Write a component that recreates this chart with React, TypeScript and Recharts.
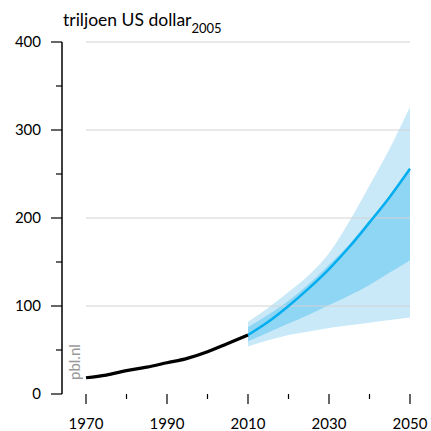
import { ComposedChart, Line, Area, XAxis, YAxis, ReferenceLine } from 'recharts'

const YEARS = [1970, 1975, 1980, 1985, 1990, 1995, 2000, 2005, 2010, 2015, 2020, 2025, 2030, 2035, 2040, 2045, 2050]

// historic GDP, 1970-2010
const HISTORY = [18.5, 21.5, 26.5, 30.5, 35.5, 40.5, 48, 57.5, 67]

// projections, 2010-2050
const MID = [67, 82, 100, 120, 142, 167, 195, 224, 256]
const DARK_LOW = [60, 70, 80, 90, 101, 112, 124, 138, 152]
const DARK_HIGH = [76, 90, 106, 125, 147, 170, 197, 225, 257]
const LIGHT_LOW = [54, 61, 67, 71, 75, 78, 81, 84, 87]
const LIGHT_HIGH = [82, 98, 116, 135, 160, 196, 237, 279, 326]

const Y_TICKS = [0, 50, 100, 150, 200, 250, 300, 350, 400]
const X_TICKS = [1970, 1980, 1990, 2000, 2010, 2020, 2030, 2040, 2050]
const GRID = [100, 200, 300, 400]

const FONT = 'Lato, "Open Sans", sans-serif'

const data = YEARS.map((year, i) => {
  const p = i - 8
  return {
    year,
    history: i < HISTORY.length ? HISTORY[i] : undefined,
    mid: p >= 0 ? MID[p] : undefined,
    dark: p >= 0 ? [DARK_LOW[p], DARK_HIGH[p]] : undefined,
    light: p >= 0 ? [LIGHT_LOW[p], LIGHT_HIGH[p]] : undefined,
  }
})

function YTick({ x, y, payload }: any) {
  const major = payload.value % 100 === 0
  return (
    <g>
      <line x1={x - (major ? 11 : 6)} x2={x} y1={y} y2={y} stroke="#000" strokeWidth={1.2} />
      {major && (
        <text x={x - 21} y={y + 5} textAnchor="end" fontSize={15} fill="#000" fontFamily={FONT}>
          {payload.value}
        </text>
      )}
    </g>
  )
}

function XTick({ x, y, payload }: any) {
  const major = (payload.value - 1970) % 20 === 0
  return (
    <g>
      <line x1={x} x2={x} y1={y} y2={y + (major ? 10 : 5)} stroke="#000" strokeWidth={1.2} />
      {major && (
        <text x={x} y={y + 35} textAnchor="middle" fontSize={15} fill="#000" fontFamily={FONT}>
          {payload.value}
        </text>
      )}
    </g>
  )
}

export default function App() {
  return (
    <div style={{ position: 'absolute', left: 0, top: 0, width: 431, height: 431, background: '#fff' }}>
      <div
        style={{
          position: 'absolute',
          left: 63,
          top: 9,
          fontFamily: FONT,
          fontSize: 17.5,
          color: '#000',
          whiteSpace: 'nowrap',
        }}
      >
        triljoen US dollar
        <sub style={{ fontSize: 13, verticalAlign: 'baseline', position: 'relative', top: 7 }}>2005</sub>
      </div>
      <ComposedChart width={431} height={431} data={data} margin={{ top: 42, right: 21, bottom: 0, left: 0 }}>
        {GRID.map((g) => (
          <ReferenceLine
            key={g}
            segment={[
              { x: 1970, y: g },
              { x: 2050, y: g },
            ]}
            stroke="#d2d2d2"
            strokeWidth={1}
          />
        ))}
        <XAxis
          dataKey="year"
          type="number"
          domain={[1970, 2050]}
          ticks={X_TICKS}
          interval={0}
          padding={{ left: 24, right: 0 }}
          axisLine={false}
          tickLine={false}
          tickSize={0}
          tickMargin={0}
          tick={<XTick />}
          height={37}
        />
        <YAxis
          domain={[0, 400]}
          ticks={Y_TICKS}
          interval={0}
          width={62}
          axisLine={{ stroke: '#000', strokeWidth: 1.5 }}
          tickLine={false}
          tickSize={0}
          tickMargin={0}
          tick={<YTick />}
        />
        <Area dataKey="light" type="monotone" stroke="none" fill="#c9e9f9" fillOpacity={1} isAnimationActive={false} />
        <Area dataKey="dark" type="monotone" stroke="none" fill="#8fd6f5" fillOpacity={1} isAnimationActive={false} />
        <Line dataKey="mid" type="monotone" stroke="#00aeef" strokeWidth={2.5} dot={false} isAnimationActive={false} />
        <Line dataKey="history" type="monotone" stroke="#000" strokeWidth={3.2} dot={false} isAnimationActive={false} />
      </ComposedChart>
      <div
        style={{
          position: 'absolute',
          left: 65,
          top: 380,
          transform: 'rotate(-90deg)',
          transformOrigin: 'left top',
          fontFamily: FONT,
          fontSize: 15,
          color: '#999',
          whiteSpace: 'nowrap',
        }}
      >
        pbl.nl
      </div>
    </div>
  )
}
